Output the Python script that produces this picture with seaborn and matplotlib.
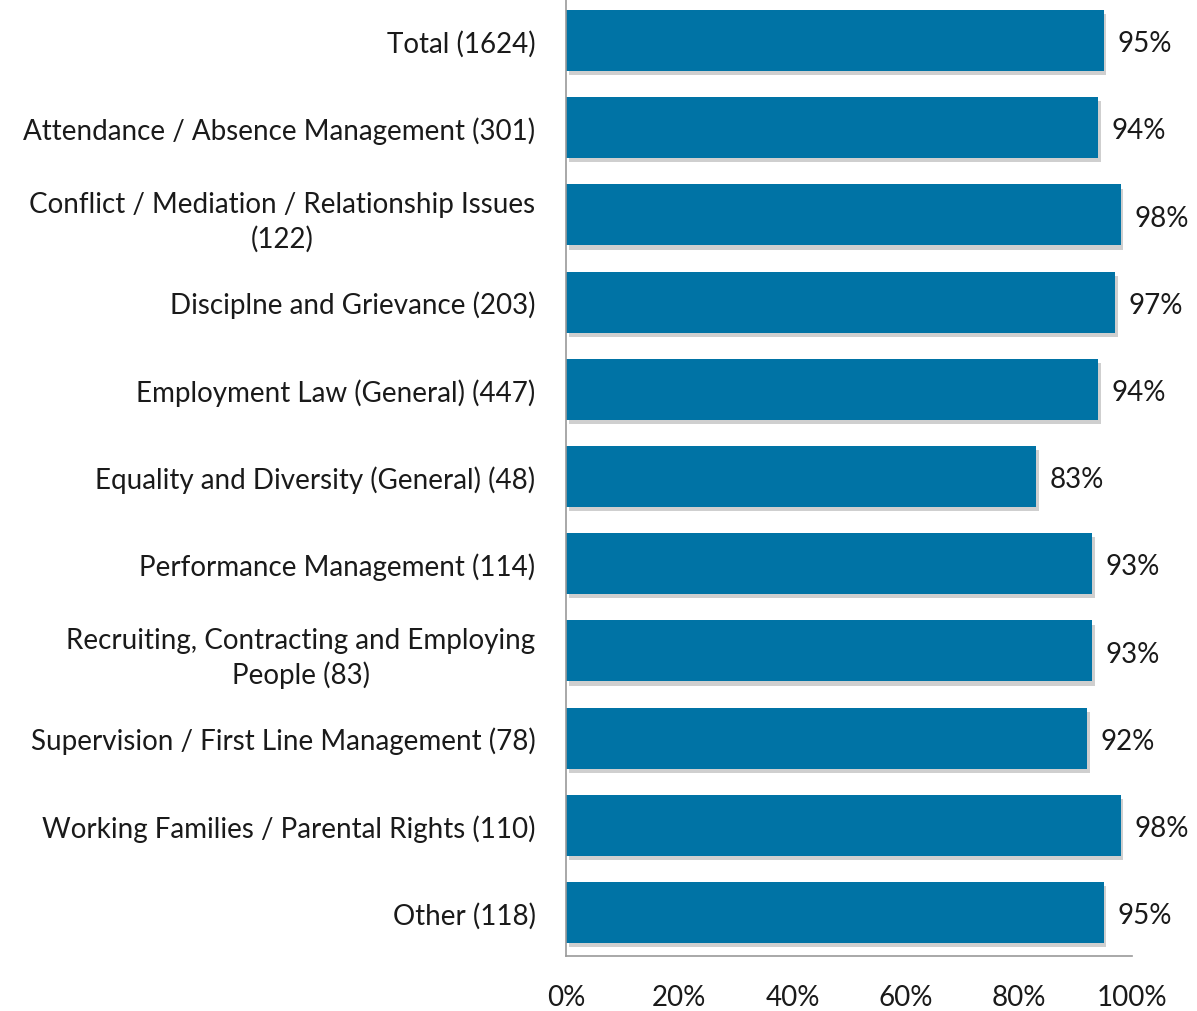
import matplotlib
matplotlib.use("Agg")
import matplotlib.pyplot as plt
import matplotlib.patheffects as pe
from matplotlib.ticker import PercentFormatter
import seaborn as sns
import pandas as pd

categories = [
    "Total (1624)",
    "Attendance / Absence Management (301)",
    "Conflict / Mediation / Relationship Issues\n(122)",
    "Disciplne and Grievance (203)",
    "Employment Law (General) (447)",
    "Equality and Diversity (General) (48)",
    "Performance Management (114)",
    "Recruiting, Contracting and Employing\nPeople (83)",
    "Supervision / First Line Management (78)",
    "Working Families / Parental Rights (110)",
    "Other (118)",
]
values = [95, 94, 98, 97, 94, 83, 93, 93, 92, 98, 95]

df = pd.DataFrame({"category": categories, "value": values})

sns.set_style("white")
plt.rcParams["font.family"] = ["Lato", "DejaVu Sans"]

fig = plt.figure(figsize=(11.97, 10.12), dpi=100)
ax = fig.add_axes([0.4729, 0.0543, 0.4728, 0.9477])

sns.barplot(data=df, x="value", y="category", orient="h", color="#0073A5",
            width=0.7, saturation=1, linewidth=0, ax=ax)

for bar in ax.patches:
    bar.set_path_effects([pe.SimplePatchShadow(offset=(2, -3), shadow_rgbFace="#777777", alpha=0.35),
                          pe.Normal()])

for i, v in enumerate(values):
    ax.text(v + 2.4, i + 0.03, f"{v}%", va="center", ha="left", fontsize=20, color="#1a1a1a")

ax.set_xlim(0, 100)
ax.set_ylim(10.5, -0.5)
ax.set_xticks(range(0, 101, 20))
ax.xaxis.set_major_formatter(PercentFormatter(decimals=0))
ax.set_xlabel("")
ax.set_ylabel("")
ax.tick_params(axis="both", length=0, labelsize=20, colors="#1a1a1a")
ax.tick_params(axis="x", pad=20)
ax.tick_params(axis="y", pad=22)
for lbl in ax.get_yticklabels():
    lbl.set_multialignment("center")
    lbl.set_linespacing(1.35)

for s in ["top", "right"]:
    ax.spines[s].set_visible(False)
for s in ["left", "bottom"]:
    ax.spines[s].set_color("#999999")
    ax.spines[s].set_linewidth(1.2)

fig.savefig("out.png", dpi=100)
